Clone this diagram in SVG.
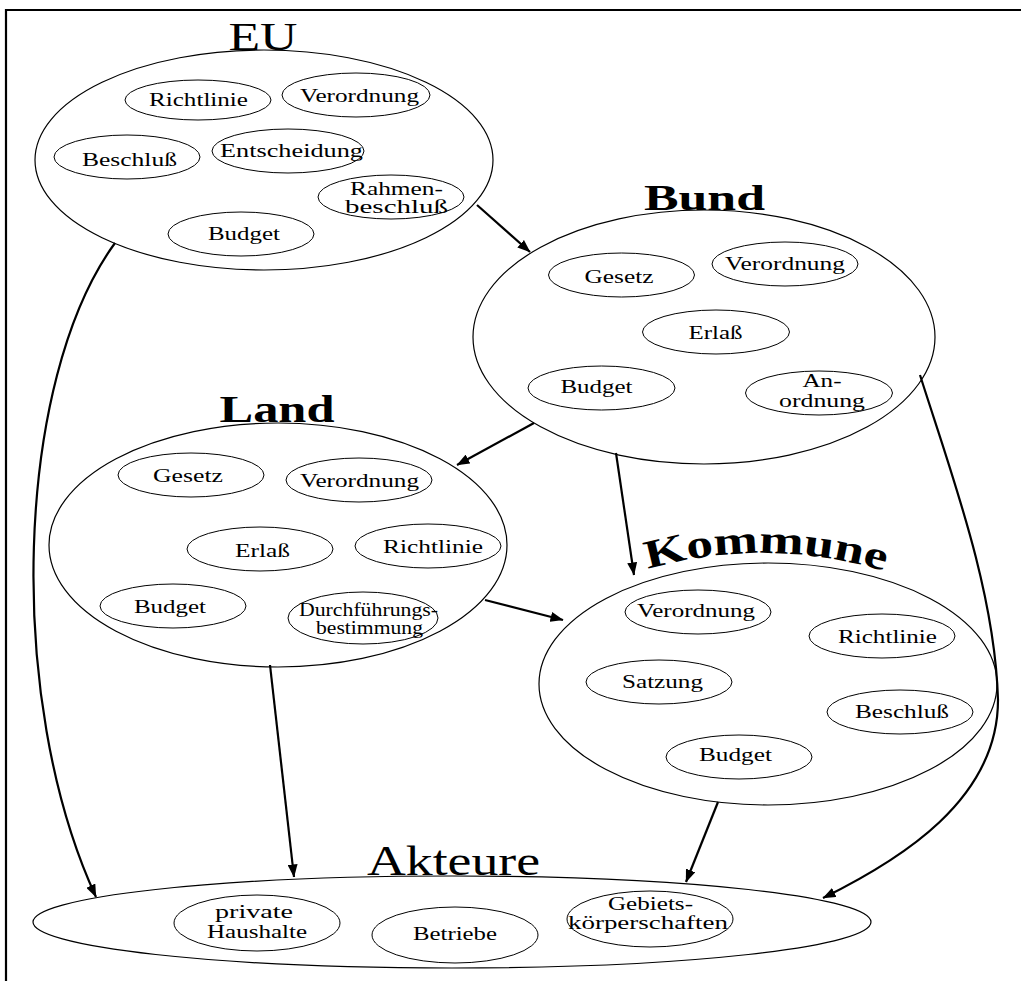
<svg xmlns="http://www.w3.org/2000/svg" width="1021" height="981" viewBox="0 0 1021 981">
<style>
.big{fill:none;stroke:#000;stroke-width:1.2}
.sm{fill:none;stroke:#000;stroke-width:1}
.lbl{font-family:"Liberation Serif","Times New Roman",serif;font-size:18px;fill:#000;text-anchor:middle}
.ttl{font-family:"Liberation Serif","Times New Roman",serif;fill:#000;text-anchor:middle}
.con{fill:none;stroke:#000;stroke-width:2.2}
.frame{stroke:#000;stroke-width:2.2;fill:none}
</style>
<defs>
<marker id="arr" viewBox="0 0 13 10" refX="12.5" refY="5" markerWidth="13" markerHeight="10" orient="auto" markerUnits="userSpaceOnUse">
<path d="M0,0 L13,5 L0,10 z" fill="#000"/>
</marker>
<path id="kommArc" d="M645,570 Q765,535 887,572"/>
</defs>
<rect width="1021" height="981" fill="#fff"/>
<path class="frame" d="M6,981 L6,10 L1021,10"/>

<g id="connectors">
<line class="con" x1="477" y1="205" x2="530" y2="252" marker-end="url(#arr)"/>
<path class="con" d="M115,243 C15,380 5,700 96,897" marker-end="url(#arr)"/>
<line class="con" x1="534" y1="423" x2="457" y2="465" marker-end="url(#arr)"/>
<line class="con" x1="616" y1="453" x2="634" y2="575" marker-end="url(#arr)"/>
<line class="con" x1="485" y1="600" x2="563" y2="620" marker-end="url(#arr)"/>
<line class="con" x1="270" y1="665" x2="294" y2="877" marker-end="url(#arr)"/>
<line class="con" x1="718" y1="802" x2="686" y2="882" marker-end="url(#arr)"/>
<path class="con" d="M920,375 C950,470 995,590 998,700 C998,800 900,860 823,898" marker-end="url(#arr)"/>
</g>

<g id="eu">
<ellipse class="big" cx="264" cy="160" rx="229" ry="110"/>
<text class="ttl" x="263" y="50" font-size="40" textLength="69" lengthAdjust="spacingAndGlyphs">EU</text>
<g id="eu-richtlinie"><ellipse class="sm" cx="198" cy="100" rx="73" ry="20"/><text class="lbl" x="198.5" y="106" textLength="99" lengthAdjust="spacingAndGlyphs">Richtlinie</text></g>
<g id="eu-verordnung"><ellipse class="sm" cx="356" cy="95" rx="74" ry="22"/><text class="lbl" x="359.5" y="102" textLength="119" lengthAdjust="spacingAndGlyphs">Verordnung</text></g>
<g id="eu-beschluss"><ellipse class="sm" cx="127" cy="157" rx="73" ry="22"/><text class="lbl" x="129.5" y="166" textLength="95" lengthAdjust="spacingAndGlyphs">Beschluß</text></g>
<g id="eu-entscheidung"><ellipse class="sm" cx="288" cy="151" rx="76" ry="22"/><text class="lbl" x="291.5" y="157" textLength="143" lengthAdjust="spacingAndGlyphs">Entscheidung</text></g>
<g id="eu-rahmenbeschluss"><ellipse class="sm" cx="391" cy="197" rx="73" ry="22"/><text class="lbl" x="396.5" y="195" textLength="93" lengthAdjust="spacingAndGlyphs">Rahmen-</text><text class="lbl" x="396.5" y="213" textLength="103" lengthAdjust="spacingAndGlyphs">beschluß</text></g>
<g id="eu-budget"><ellipse class="sm" cx="241" cy="234" rx="73" ry="22"/><text class="lbl" x="244" y="240" textLength="72" lengthAdjust="spacingAndGlyphs">Budget</text></g>
</g>

<g id="bund">
<ellipse class="big" cx="704" cy="337" rx="231" ry="127"/>
<text class="ttl" x="704.5" y="210" font-size="36" font-weight="bold" textLength="121" lengthAdjust="spacingAndGlyphs">Bund</text>
<g id="bund-gesetz"><ellipse class="sm" cx="621.5" cy="275" rx="73" ry="22"/><text class="lbl" x="619" y="283" textLength="69" lengthAdjust="spacingAndGlyphs">Gesetz</text></g>
<g id="bund-verordnung"><ellipse class="sm" cx="785" cy="264" rx="73" ry="22"/><text class="lbl" x="785" y="270" textLength="120" lengthAdjust="spacingAndGlyphs">Verordnung</text></g>
<g id="bund-erlass"><ellipse class="sm" cx="716" cy="332" rx="73.5" ry="22"/><text class="lbl" x="715.5" y="339" textLength="54" lengthAdjust="spacingAndGlyphs">Erlaß</text></g>
<g id="bund-budget"><ellipse class="sm" cx="601.5" cy="388" rx="73.5" ry="22"/><text class="lbl" x="596.5" y="393" textLength="72" lengthAdjust="spacingAndGlyphs">Budget</text></g>
<g id="bund-anordnung"><ellipse class="sm" cx="819" cy="393" rx="73.5" ry="22"/><text class="lbl" x="822" y="387" textLength="39" lengthAdjust="spacingAndGlyphs">An-</text><text class="lbl" x="822" y="407" textLength="86" lengthAdjust="spacingAndGlyphs">ordnung</text></g>
</g>

<g id="land">
<ellipse class="big" cx="278" cy="545" rx="229" ry="122"/>
<text class="ttl" x="277" y="422" font-size="37" font-weight="bold" textLength="115" lengthAdjust="spacingAndGlyphs">Land</text>
<g id="land-gesetz"><ellipse class="sm" cx="191" cy="475" rx="73" ry="22"/><text class="lbl" x="188" y="482" textLength="70" lengthAdjust="spacingAndGlyphs">Gesetz</text></g>
<g id="land-verordnung"><ellipse class="sm" cx="359" cy="480" rx="73" ry="22"/><text class="lbl" x="359.5" y="487" textLength="119" lengthAdjust="spacingAndGlyphs">Verordnung</text></g>
<g id="land-erlass"><ellipse class="sm" cx="260" cy="549" rx="73" ry="22"/><text class="lbl" x="262.5" y="557" textLength="55" lengthAdjust="spacingAndGlyphs">Erlaß</text></g>
<g id="land-richtlinie"><ellipse class="sm" cx="428" cy="546" rx="73" ry="22"/><text class="lbl" x="433" y="553" textLength="100" lengthAdjust="spacingAndGlyphs">Richtlinie</text></g>
<g id="land-budget"><ellipse class="sm" cx="173" cy="606" rx="73" ry="22"/><text class="lbl" x="170" y="613" textLength="72" lengthAdjust="spacingAndGlyphs">Budget</text></g>
<g id="land-durchfuehrung"><ellipse class="sm" cx="363" cy="618" rx="75" ry="26"/><text class="lbl" x="368.5" y="616" textLength="139" lengthAdjust="spacingAndGlyphs">Durchführungs-</text><text class="lbl" x="369.5" y="634" textLength="107" lengthAdjust="spacingAndGlyphs">bestimmung</text></g>
</g>

<g id="kommune">
<ellipse class="big" cx="768" cy="684" rx="229" ry="121"/>
<text class="ttl" font-size="40" font-weight="bold"><textPath href="#kommArc" startOffset="50%" textLength="240" lengthAdjust="spacingAndGlyphs">Kommune</textPath></text>
<g id="kommune-verordnung"><ellipse class="sm" cx="698" cy="612" rx="73" ry="22"/><text class="lbl" x="696" y="617" textLength="118" lengthAdjust="spacingAndGlyphs">Verordnung</text></g>
<g id="kommune-richtlinie"><ellipse class="sm" cx="882" cy="636" rx="73" ry="22"/><text class="lbl" x="887.5" y="643" textLength="99" lengthAdjust="spacingAndGlyphs">Richtlinie</text></g>
<g id="kommune-satzung"><ellipse class="sm" cx="659" cy="682" rx="73" ry="22"/><text class="lbl" x="662.5" y="688" textLength="81" lengthAdjust="spacingAndGlyphs">Satzung</text></g>
<g id="kommune-beschluss"><ellipse class="sm" cx="900" cy="712" rx="73" ry="22"/><text class="lbl" x="902" y="718" textLength="94" lengthAdjust="spacingAndGlyphs">Beschluß</text></g>
<g id="kommune-budget"><ellipse class="sm" cx="739" cy="757" rx="73" ry="22"/><text class="lbl" x="735.5" y="761" textLength="73" lengthAdjust="spacingAndGlyphs">Budget</text></g>
</g>

<g id="akteure">
<ellipse class="big" cx="452" cy="922" rx="419" ry="46"/>
<text class="ttl" x="453.5" y="875" font-size="42" textLength="173" lengthAdjust="spacingAndGlyphs">Akteure</text>
<g id="akteure-haushalte"><ellipse class="sm" cx="257" cy="923" rx="83" ry="28"/><text class="lbl" x="254" y="918" textLength="78" lengthAdjust="spacingAndGlyphs">private</text><text class="lbl" x="257" y="938" textLength="100" lengthAdjust="spacingAndGlyphs">Haushalte</text></g>
<g id="akteure-betriebe"><ellipse class="sm" cx="455" cy="935" rx="83" ry="28"/><text class="lbl" x="455" y="940" textLength="84" lengthAdjust="spacingAndGlyphs">Betriebe</text></g>
<g id="akteure-gebiet"><ellipse class="sm" cx="650" cy="919" rx="83" ry="28"/><text class="lbl" x="650.5" y="910" textLength="85" lengthAdjust="spacingAndGlyphs">Gebiets-</text><text class="lbl" x="648" y="929" textLength="160" lengthAdjust="spacingAndGlyphs">körperschaften</text></g>
</g>
</svg>
